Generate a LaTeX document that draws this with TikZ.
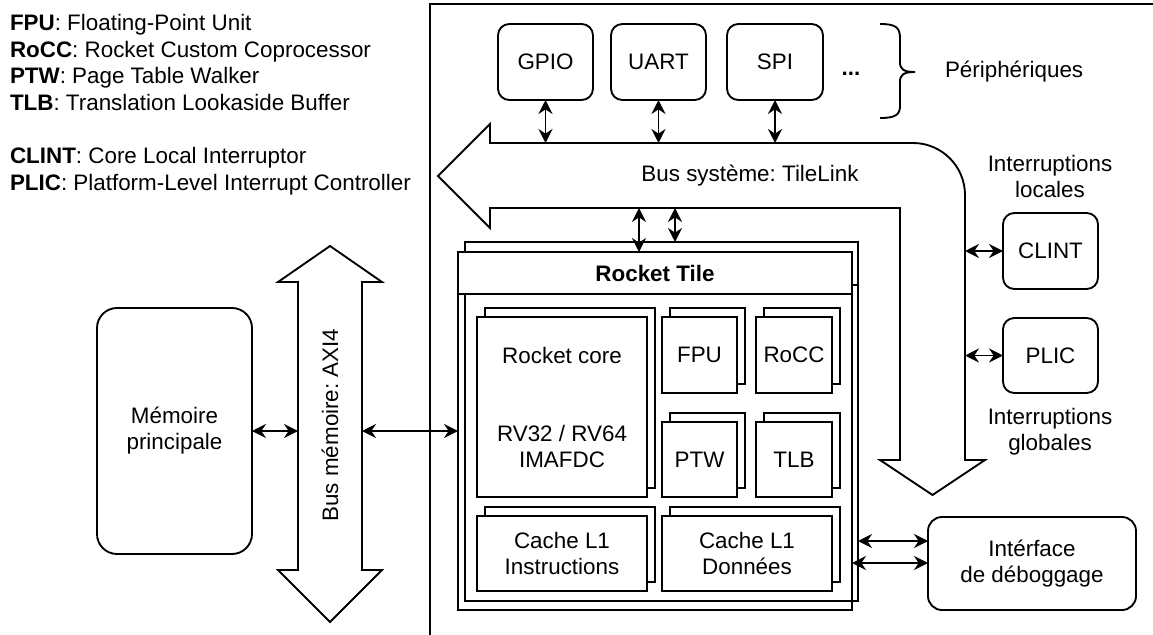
\documentclass[tikz,border=0pt]{standalone}
\usepackage{fontspec}
\setmainfont{Liberation Sans}
\usetikzlibrary{arrows.meta}
\frenchspacing
\begin{document}
\begin{tikzpicture}[x=0.75pt,y=-0.75pt,
  every node/.style={font=\fontsize{16.8}{19.5}\selectfont, inner sep=0pt, outer sep=0pt},
  ln/.style={line width=1.4pt},
  rbox/.style={draw, line width=1.4pt, rounded corners=8.5pt, fill=white, align=center},
  sbox/.style={draw, line width=1.4pt, fill=white, align=center},
  obox/.style={draw, line width=1.4pt},
  txt/.style={align=center},
  dbl/.style={line width=1.4pt, {Stealth[length=10.5pt,width=10.5pt,inset=3.5pt]}-{Stealth[length=10.5pt,width=10.5pt,inset=3.5pt]}},
]
\useasboundingbox (0,0) rectangle (1153,635);

% legend
\node[anchor=base west] (lg1) at (10,31) {\textbf{FPU}: Floating-Point Unit};
\node[anchor=base west] (lg2) at (10,58) {\textbf{RoCC}: Rocket Custom Coprocessor};
\node[anchor=base west] (lg3) at (10,84) {\textbf{PTW}: Page Table Walker};
\node[anchor=base west] (lg4) at (10,110) {\textbf{TLB}: Translation Lookaside Buffer};
\node[anchor=base west] (lg5) at (10,163) {\textbf{CLINT}: Core Local Interruptor};
\node[anchor=base west] (lg6) at (10,190) {\textbf{PLIC}: Platform-Level Interrupt Controller};

% frame
\draw[ln] (430,635) -- (430,4) -- (1153,4);

% peripherals
\node[rbox, minimum width={95*0.75pt}, minimum height={76*0.75pt}] (gpio) at (545.5,62) {GPIO};
\node[rbox, minimum width={95*0.75pt}, minimum height={76*0.75pt}] (uart) at (658.5,62) {UART};
\node[rbox, minimum width={96*0.75pt}, minimum height={76*0.75pt}] (spi) at (775,62) {SPI};
\node[anchor=base] (dots) at (851,75) {\textbf{...}};
\draw[ln] (880,24) .. controls (895,24) and (900,27) .. (900,38) -- (900,62)
  .. controls (900,69) and (903,72) .. (915,72)
  .. controls (903,72) and (900,75) .. (900,82) -- (900,106)
  .. controls (900,115) and (895,118) .. (880,118);
\node[anchor=west] (periph) at (945,72) {Périphériques};

% system bus arrow
\draw[ln, fill=white] (438,176) -- (490,124) -- (490,143) -- (913,143)
  .. controls (941.7,143) and (965,166.3) .. (965,195) -- (965,460) -- (985,460)
  -- (932.5,495) -- (880,460) -- (900,460) -- (900,208) -- (490,208) -- (490,228) -- cycle;
\node (sysbus) at (750,176) {Bus système: TileLink};
\coordinate (busTop) at (490,143);
\coordinate (busBot) at (490,208);
\coordinate (busRight) at (965,300);

\draw[dbl] (gpio.south) -- (gpio.south |- busTop);
\draw[dbl] (uart.south) -- (uart.south |- busTop);
\draw[dbl] (spi.south) -- (spi.south |- busTop);

% Rocket tile
\node[obox, minimum width={393*0.75pt}, minimum height={359*0.75pt}] (tileBack) at (661.5,421.5) {};
\draw[ln] (465,285) -- (858,285);
\node[obox, minimum width={394*0.75pt}, minimum height={358*0.75pt}] (tileFront) at (655,431) {};
\node[sbox, minimum width={394*0.75pt}, minimum height={42*0.75pt}] (tileHead) at (655,273) {\textbf{Rocket Tile}};

\coordinate (ta) at (639,208);
\coordinate (tb) at (675,208);
\draw[dbl] (ta) -- (ta |- tileFront.north);
\draw[dbl] (tb) -- (tb |- tileBack.north);

% inner blocks (stacked)
\node[sbox, minimum width={170*0.75pt}, minimum height={180*0.75pt}] (coreB) at (570,398) {};
\node[sbox, minimum width={170*0.75pt}, minimum height={180*0.75pt}] (core) at (562,407) {Rocket core\\[39pt]RV32 / RV64\\IMAFDC};
\node[sbox, minimum width={75*0.75pt}, minimum height={76*0.75pt}] (fpuB) at (707.5,346) {};
\node[sbox, minimum width={75*0.75pt}, minimum height={76*0.75pt}] (fpu) at (699.5,355) {FPU};
\node[sbox, minimum width={76*0.75pt}, minimum height={76*0.75pt}] (roccB) at (802,346) {};
\node[sbox, minimum width={76*0.75pt}, minimum height={76*0.75pt}] (rocc) at (794,355) {RoCC};
\node[sbox, minimum width={75*0.75pt}, minimum height={75*0.75pt}] (ptwB) at (707.5,450.5) {};
\node[sbox, minimum width={75*0.75pt}, minimum height={75*0.75pt}] (ptw) at (699.5,459.5) {PTW};
\node[sbox, minimum width={76*0.75pt}, minimum height={75*0.75pt}] (tlbB) at (802,450.5) {};
\node[sbox, minimum width={76*0.75pt}, minimum height={75*0.75pt}] (tlb) at (794,459.5) {TLB};
\node[sbox, minimum width={170*0.75pt}, minimum height={75*0.75pt}] (cacheIB) at (570,544.5) {};
\node[sbox, minimum width={170*0.75pt}, minimum height={75*0.75pt}] (cacheI) at (562,553.5) {Cache L1\\Instructions};
\node[sbox, minimum width={170*0.75pt}, minimum height={75*0.75pt}] (cacheDB) at (755,544.5) {};
\node[sbox, minimum width={170*0.75pt}, minimum height={75*0.75pt}] (cacheD) at (747,553.5) {Cache L1\\Données};

% interrupts
\node[txt] (intLoc) at (1050,176.5) {Interruptions\\locales};
\node[rbox, minimum width={95*0.75pt}, minimum height={76*0.75pt}] (clint) at (1050.5,251) {CLINT};
\node[rbox, minimum width={95*0.75pt}, minimum height={75*0.75pt}] (plic) at (1050.5,355.5) {PLIC};
\node[txt] (intGlob) at (1050,432) {Interruptions\\globales};
\draw[dbl] (busRight |- clint.west) -- (clint.west);
\draw[dbl] (busRight |- plic.west) -- (plic.west);

% debug
\node[rbox, rounded corners=10.5pt, minimum width={208*0.75pt}, minimum height={93*0.75pt}] (dbg) at (1032,563.5) {Intérface\\de déboggage};
\coordinate (dy1) at (0,541);
\coordinate (dy2) at (0,563);
\draw[dbl] (tileBack.east |- dy1) -- (dbg.west |- dy1);
\draw[dbl] (tileFront.east |- dy2) -- (dbg.west |- dy2);

% memory
\node[rbox, rounded corners=15pt, minimum width={155*0.75pt}, minimum height={246*0.75pt}] (mem) at (174.5,431) {Mémoire\\principale};
\draw[ln, fill=white] (330,246) -- (382,282) -- (362,282) -- (362,570) -- (382,570) -- (330,622)
  -- (278,570) -- (298,570) -- (298,282) -- (278,282) -- cycle;
\node[rotate=90] (membus) at (330,425) {Bus mémoire: AXI4};
\coordinate (mbL) at (298,431);
\coordinate (mbR) at (362,431);
\draw[dbl] (mem.east) -- (mbL);
\draw[dbl] (mbR) -- (tileFront.west |- mbR);
\end{tikzpicture}
\end{document}
